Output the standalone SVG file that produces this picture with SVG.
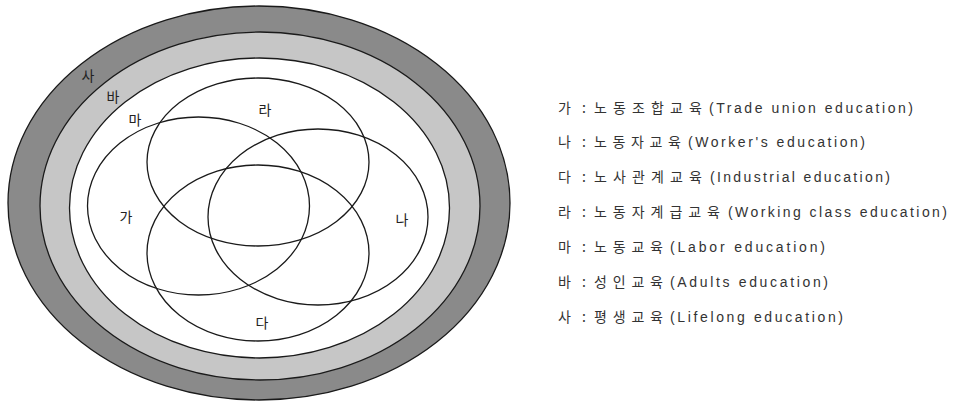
<svg xmlns="http://www.w3.org/2000/svg" width="955" height="405" viewBox="0 0 955 405">
<style>
.ring{stroke:#1a1a1a;stroke-width:1.3}
.set{fill:none;stroke:#1a1a1a;stroke-width:1.3}
.lbl{font-family:"Noto Sans CJK KR","Noto Sans",sans-serif;font-size:14px;fill:#222;text-anchor:middle}
.lg{font-family:"Noto Sans CJK KR","Liberation Sans",sans-serif;font-size:14px;fill:#333}
.en{font-family:"Liberation Sans","Noto Sans",sans-serif;font-size:14px;fill:#333}
</style>
<rect width="955" height="405" fill="#fff"/>
<g id="sa"><ellipse class="ring" cx="259" cy="203" rx="251" ry="197" fill="#8a8a8a"/></g>
<g id="ba"><ellipse class="ring" cx="260" cy="206" rx="220" ry="174" fill="#c6c6c6"/></g>
<g id="ma"><ellipse class="ring" cx="259.5" cy="208" rx="190" ry="150" fill="#fff"/></g>
<g id="ga"><ellipse class="set" cx="198.5" cy="206" rx="111" ry="89"/></g>
<g id="ra"><ellipse class="set" cx="258" cy="162" rx="111" ry="84"/></g>
<g id="na"><ellipse class="set" cx="318" cy="217" rx="110" ry="88"/></g>
<g id="da"><ellipse class="set" cx="258" cy="253" rx="111" ry="88"/></g>
<g id="labels">
<text class="lbl" x="88" y="81">사</text>
<text class="lbl" x="113" y="102">바</text>
<text class="lbl" x="135" y="125">마</text>
<text class="lbl" x="265" y="115">라</text>
<text class="lbl" x="126" y="222">가</text>
<text class="lbl" x="402" y="225">나</text>
<text class="lbl" x="262" y="328">다</text>
</g>
<g id="legend">
<text class="lg" x="558" y="113">가</text><text class="lg" x="582" y="113">:</text>
<text class="lg" x="594" y="113" textLength="108" lengthAdjust="spacing">노동조합교육</text>
<text class="en" x="709" y="113" textLength="204" lengthAdjust="spacing">(Trade union education)</text>
<text class="lg" x="558" y="147">나</text><text class="lg" x="582" y="147">:</text>
<text class="lg" x="594" y="147" textLength="87" lengthAdjust="spacing">노동자교육</text>
<text class="en" x="688" y="147" textLength="177" lengthAdjust="spacing">(Worker's education)</text>
<text class="lg" x="558" y="182">다</text><text class="lg" x="582" y="182">:</text>
<text class="lg" x="594" y="182" textLength="108" lengthAdjust="spacing">노사관계교육</text>
<text class="en" x="710" y="182" textLength="180" lengthAdjust="spacing">(Industrial education)</text>
<text class="lg" x="558" y="217">라</text><text class="lg" x="582" y="217">:</text>
<text class="lg" x="594" y="217" textLength="126" lengthAdjust="spacing">노동자계급교육</text>
<text class="en" x="728" y="217" textLength="219" lengthAdjust="spacing">(Working class education)</text>
<text class="lg" x="558" y="252">마</text><text class="lg" x="582" y="252">:</text>
<text class="lg" x="594" y="252" textLength="69" lengthAdjust="spacing">노동교육</text>
<text class="en" x="670" y="252" textLength="155" lengthAdjust="spacing">(Labor education)</text>
<text class="lg" x="558" y="287">바</text><text class="lg" x="582" y="287">:</text>
<text class="lg" x="594" y="287" textLength="69" lengthAdjust="spacing">성인교육</text>
<text class="en" x="670" y="287" textLength="158" lengthAdjust="spacing">(Adults education)</text>
<text class="lg" x="558" y="322">사</text><text class="lg" x="582" y="322">:</text>
<text class="lg" x="594" y="322" textLength="69" lengthAdjust="spacing">평생교육</text>
<text class="en" x="670" y="322" textLength="173" lengthAdjust="spacing">(Lifelong education)</text>
</g>
</svg>
